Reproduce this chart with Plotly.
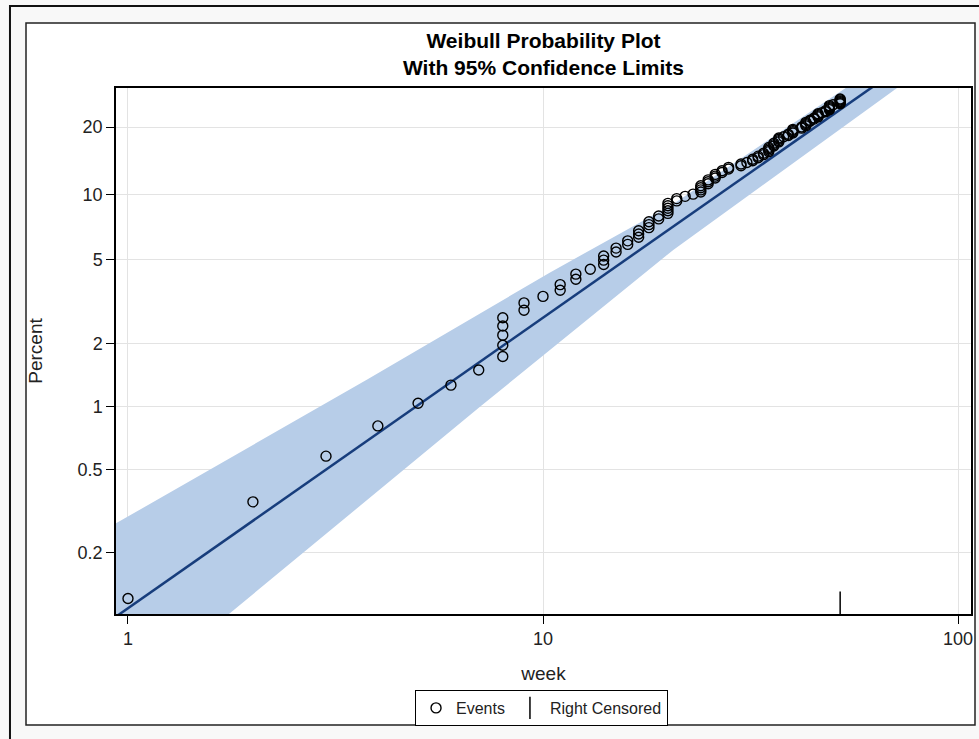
import numpy as np
import plotly.graph_objects as go

# ---------------- data ----------------
event_weeks = (
    [1, 2, 3, 4, 5, 6, 7]
    + [8] * 5 + [9] * 2 + [10] + [11] * 2 + [12] * 2 + [13] + [14] * 3
    + [15] * 2 + [16] * 2 + [17] * 3 + [18] * 3 + [19] * 2 + [20] * 5
    + [21] * 2 + [22] + [23] + [24] * 4 + [25] * 3 + [26] * 3 + [27] * 2
    + [28] * 2 + [30] * 2 + [31] + [32] * 2 + [33] * 2 + [34] * 2
    + [35] * 4 + [36] * 3 + [37] * 4 + [38] + [39] * 2 + [40] * 4
    + [42] * 2 + [43] * 4 + [44] * 2 + [45] * 2 + [46] * 4 + [47]
    + [48] * 2 + [49] * 5 + [50] + [52] * 6
)
event_percent = [
    0.12, 0.35, 0.58, 0.81, 1.04, 1.27, 1.50, 1.74, 1.97, 2.20,
    2.43, 2.66, 2.89, 3.13, 3.36, 3.59, 3.82, 4.05, 4.28, 4.51,
    4.75, 4.98, 5.21, 5.44, 5.67, 5.90, 6.13, 6.37, 6.60, 6.83,
    7.06, 7.29, 7.52, 7.75, 7.99, 8.22, 8.45, 8.68, 8.91, 9.14,
    9.38, 9.61, 9.84, 10.07, 10.30, 10.53, 10.76, 11.00, 11.23, 11.46,
    11.69, 11.92, 12.15, 12.38, 12.62, 12.85, 13.08, 13.31, 13.54, 13.77,
    14.00, 14.24, 14.47, 14.70, 14.93, 15.16, 15.39, 15.63, 15.86, 16.09,
    16.32, 16.55, 16.78, 17.01, 17.25, 17.48, 17.71, 17.94, 18.17, 18.40,
    18.63, 18.87, 19.10, 19.33, 19.56, 19.79, 20.02, 20.25, 20.49, 20.72,
    20.95, 21.18, 21.41, 21.64, 21.88, 22.11, 22.34, 22.57, 22.80, 23.03,
    23.26, 23.50, 23.73, 23.96, 24.19, 24.42, 24.65, 24.88, 25.12, 25.35,
    25.58, 25.81, 26.04, 26.27,
]
censored_weeks = [52]

fit_weeks = [0.9, 110]
fit_percent = [0.093, 53.8]

upper_weeks = [0.93, 3.77, 10.4, 20.6, 54.9, 110]
upper_percent = [0.274, 1.35, 4.36, 9.08, 29.9, 58.2]
lower_weeks = [0.93, 1.76, 7.05, 20.6, 71.3, 110]
lower_percent = [0.036, 0.102, 1.00, 5.56, 29.1, 47.3]

y_tick_percent = [0.2, 0.5, 1, 2, 5, 10, 20]
y_tick_labels = ["0.2", "0.5", "1", "2", "5", "10", "20"]
x_tick_weeks = [1, 10, 100]
x_tick_labels = ["1", "10", "100"]

y_range_percent = [0.1011, 29.12]
x_range_log = [-0.0289, 2.0313]


# Weibull probability scale: ln(-ln(1-p))
def wb(p):
    p = np.asarray(p, dtype=float) / 100.0
    return np.log(-np.log(1.0 - p))


FONT = "Liberation Sans, Arial, sans-serif"
BAND = "#b7cde8"
LINE = "#173d7c"

fig = go.Figure()

band_x = list(upper_weeks) + list(lower_weeks[::-1])
band_y = list(wb(upper_percent)) + list(wb(lower_percent[::-1]))
fig.add_trace(go.Scatter(
    x=band_x, y=band_y, mode="lines", fill="toself",
    fillcolor=BAND, line=dict(width=0, color=BAND),
    showlegend=False, hoverinfo="skip",
))
fig.add_trace(go.Scatter(
    x=fit_weeks, y=wb(fit_percent), mode="lines",
    line=dict(color=LINE, width=2.5), showlegend=False,
))
fig.add_trace(go.Scatter(
    x=event_weeks, y=wb(event_percent), mode="markers", name="Events",
    marker=dict(symbol="circle-open", size=10, color="black",
                line=dict(width=1.4, color="black")),
))
y_lo = float(wb([y_range_percent[0]])[0])
y_hi = float(wb([y_range_percent[1]])[0])
fig.add_trace(go.Scatter(
    x=censored_weeks, y=[y_lo] * len(censored_weeks), mode="markers",
    name="Right Censored", cliponaxis=True,
    marker=dict(symbol="line-ns", size=32, color="black",
                line=dict(width=1.5, color="black")),
))

# page frames (paper coordinates)
fig.add_shape(type="rect", xref="paper", yref="paper",
              x0=-0.124, x1=1.05, y0=-0.35, y1=1.156,
              line=dict(color="#111111", width=2), fillcolor="#f8f8f8", layer="below")
fig.add_shape(type="rect", xref="paper", yref="paper",
              x0=-0.10526, x1=1.00468, y0=-0.2110, y1=1.1236,
              line=dict(color="#222222", width=1.5), fillcolor="white", layer="below")

fig.update_layout(
    width=979, height=739,
    margin=dict(l=116, r=8, t=88, b=125, autoexpand=False),
    paper_bgcolor="#f8f8f8", plot_bgcolor="white",
    font=dict(family=FONT, size=18, color="#222222"),
    title=dict(
        text="Weibull Probability Plot<br>With 95% Confidence Limits",
        x=0.5, xref="paper", xanchor="center",
        y=1 - 48 / 739, yref="container", yanchor="middle",
        font=dict(family=FONT, size=21, color="black", weight="bold"),
    ),
    showlegend=True,
    legend=dict(
        orientation="h", x=0.4977, xanchor="center",
        y=(614 - 690) / 526, yanchor="top",
        bordercolor="black", borderwidth=1, bgcolor="white",
        font=dict(family=FONT, size=16, color="#222222"),
        itemwidth=30, tracegroupgap=0,
    ),
)
fig.update_xaxes(
    type="log", range=x_range_log,
    tickvals=x_tick_weeks, ticktext=x_tick_labels,
    ticks="outside", ticklen=8, tickwidth=1.2, tickcolor="black",
    showline=True, linecolor="black", linewidth=1.5, mirror=True,
    showgrid=True, gridcolor="#e3e3e3", gridwidth=1, zeroline=False,
    title=dict(text="week", standoff=18, font=dict(size=19)),
    automargin=False,
)
fig.update_yaxes(
    range=[y_lo, y_hi],
    tickvals=list(wb(y_tick_percent)), ticktext=y_tick_labels,
    ticks="outside", ticklen=8, tickwidth=1.2, tickcolor="black",
    showline=True, linecolor="black", linewidth=1.5, mirror=True,
    showgrid=True, gridcolor="#e3e3e3", gridwidth=1, zeroline=False,
    title=dict(text="Percent", standoff=30, font=dict(size=19)),
    automargin=False,
)

fig.write_html("out.html")
